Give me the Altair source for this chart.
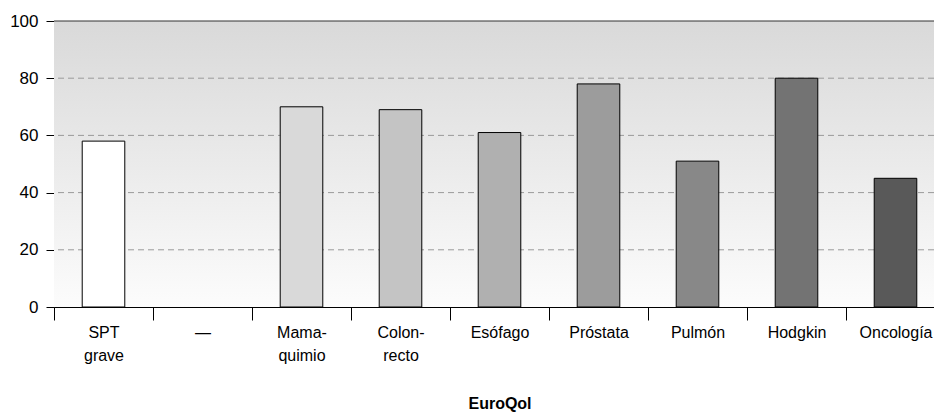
import altair as alt
import pandas as pd

categories = ["SPT\ngrave", "—", "Mama-\nquimio", "Colon-\nrecto", "Esófago",
              "Próstata", "Pulmón", "Hodgkin", "Oncología"]
values = [58, None, 70, 69, 61, 78, 51, 80, 45]
bar_colors = ["#ffffff", "#eeeeee", "#d9d9d9", "#c4c4c4", "#b0b0b0",
              "#9c9c9c", "#888888", "#737373", "#595959"]
y_ticks = [0, 20, 40, 60, 80, 100]
grid_values = [20, 40, 60, 80]
axis_title = "EuroQol"

df = pd.DataFrame({"cat": categories, "value": values})
grid_df = pd.DataFrame({"v": grid_values})
one_df = pd.DataFrame({"k": [0]})

FONT = "Liberation Sans"
W, H = 880, 286

x_scale = alt.Scale(domain=categories, range=[0, 891], paddingInner=0, paddingOuter=0)
y_scale = alt.Scale(domain=[0, 100], nice=False)

background = alt.Chart(one_df).mark_rect(
    color=alt.Gradient(
        gradient="linear",
        stops=[alt.GradientStop(color="#d9d9d9", offset=0),
               alt.GradientStop(color="#fcfcfc", offset=1)],
        x1=0, x2=0, y1=0, y2=1,
    )
).encode(
    y=alt.Y(datum=100, type="quantitative", scale=y_scale, title=None),
    y2=alt.Y2(datum=0),
)

grid = alt.Chart(grid_df).mark_rule(color="#9a9a9a", strokeDash=[6, 4], strokeWidth=1).encode(
    y=alt.Y("v:Q", scale=y_scale, title=None)
)

top_line = alt.Chart(one_df).mark_rule(color="#333333", strokeWidth=1).encode(
    y=alt.Y(datum=100, type="quantitative", scale=y_scale, title=None)
)

bars = alt.Chart(df).mark_bar(
    stroke="black", strokeWidth=1, width=alt.RelativeBandSize(0.43)
).encode(
    x=alt.X(
        "cat:N",
        scale=x_scale,
        sort=categories,
        axis=alt.Axis(
            title=axis_title,
            labelAngle=0,
            labelExpr="split(datum.label, '\\n')",
            tickBand="extent",
            tickSize=13,
            tickColor="black",
            domainColor="black",
            labelFont=FONT,
            labelFontSize=16,
            labelColor="black",
            labelPadding=4,
            labelLineHeight=23,
            labelOverlap=False,
            titleFont=FONT,
            titleFontSize=16,
            titleFontWeight="bold",
            titleColor="black",
            titlePadding=32,
        ),
    ),
    y=alt.Y(
        "value:Q",
        scale=y_scale,
        axis=alt.Axis(
            values=y_ticks,
            grid=False,
            tickSize=8,
            tickColor="black",
            domainColor="black",
            labelFont=FONT,
            labelFontSize=17,
            labelColor="black",
            labelPadding=8,
            title=None,
        ),
    ),
    color=alt.Color("cat:N", scale=alt.Scale(domain=categories, range=bar_colors), legend=None),
)

chart = alt.layer(background, grid, bars, top_line).properties(
    width=W,
    height=H,
    autosize=alt.AutoSizeParams(type="none"),
    padding={"left": 54, "top": 21, "right": 0, "bottom": 105},
).configure_view(stroke=None)

chart.save("out.html", embed_options={"renderer": "svg", "actions": False})
